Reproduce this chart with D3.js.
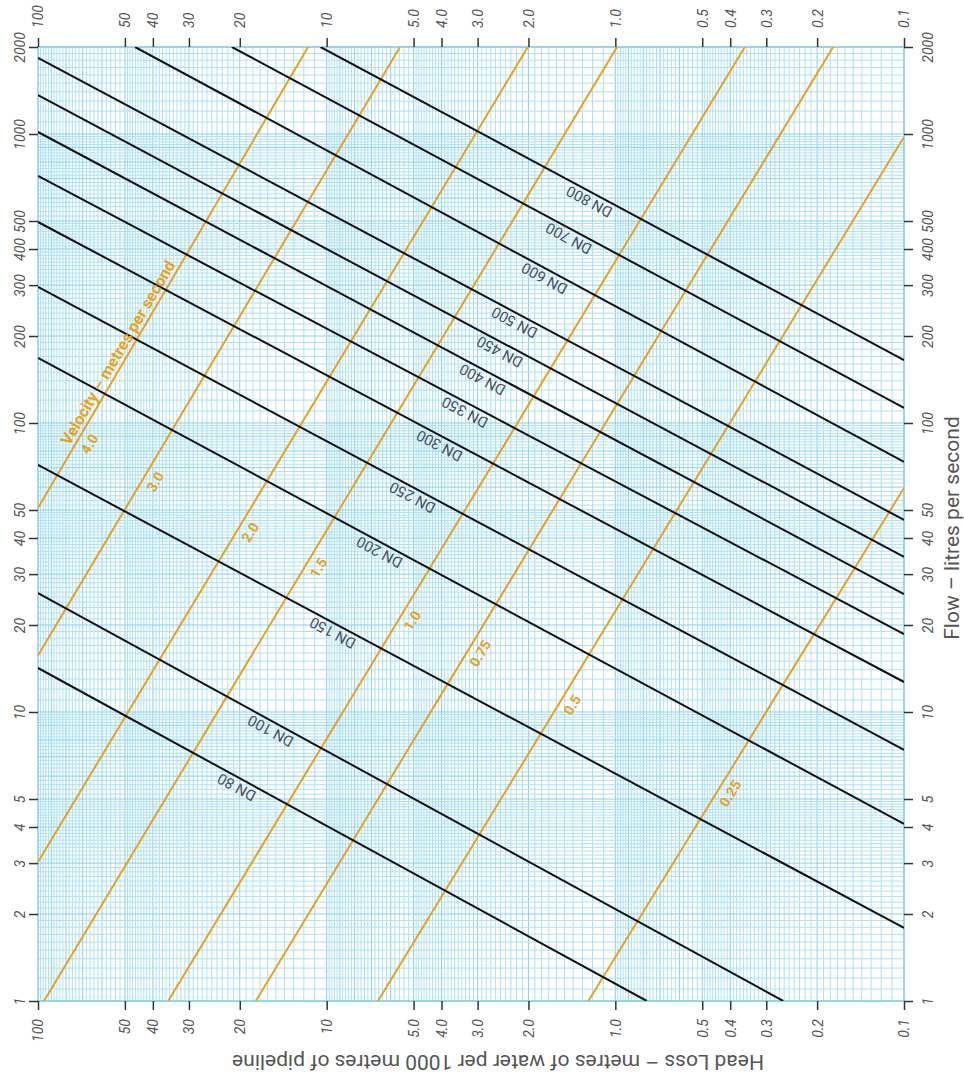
<!DOCTYPE html>
<html><head><meta charset="utf-8">
<script src="https://cdn.jsdelivr.net/npm/d3@7"></script>
<style>body{margin:0;background:#fff}svg{display:block}</style>
</head><body>
<svg id="chart" width="964" height="1073"></svg>
<script>
// ---- data ----
const headLossTicks = [100, 50, 40, 30, 20, 10, 5, 4, 3, 2, 1, 0.5, 0.4, 0.3, 0.2, 0.1];
const headLossTickLabels = ["100","50","40","30","20","10","5.0","4.0","3.0","2.0","1.0","0.5","0.4","0.3","0.2","0.1"];
const flowTicks = [1, 2, 3, 4, 5, 10, 20, 30, 40, 50, 100, 200, 300, 400, 500, 1000, 2000];
const flowTickLabels = ["1","2","3","4","5","10","20","30","40","50","100","200","300","400","500","1000","2000"];

// grid subdivision of one decade: [from, to, step] in units of the decade base
const gridSubdivision = [[1, 2, 0.1], [2, 5, 0.1], [5, 10, 0.2]];

// pipe lines: [headLoss, flow] at both ends
const pipeNames = ["DN 80","DN 100","DN 150","DN 200","DN 250","DN 300","DN 350","DN 400","DN 450","DN 500","DN 600","DN 700","DN 800"];
const pipeStart = [[100,14.2],[100,25.8],[100,71.6],[100,168],[100,296],[100,496],[100,716],[100,1016],[100,1364],[100,1833],[46.1,2000],[21.3,2000],[10.5,2000]];
const pipeEnd   = [[0.778,1],[0.262,1],[0.1,1.79],[0.1,4.1],[0.1,7.4],[0.1,12.7],[0.1,18.6],[0.1,25.6],[0.1,34.4],[0.1,46.2],[0.1,73.3],[0.1,112.7],[0.1,165]];
const pipeLabelAt = [19.8,15.1,9.21,6.34,4.87,3.93,3.21,2.79,2.43,2.16,1.70,1.40,1.19]; // head loss at label

// velocity lines
const velocityNames = ["4.0","3.0","2.0","1.5","1.0","0.75","0.5","0.25"];
const velocityStart = [[100,50.8],[100,15.7],[100,3.03],[95.3,1],[35.4,1],[17.6,1],[6.64,1],[1.24,1]];
const velocityEnd   = [[11.6,2000],[5.57,2000],[2.01,2000],[0.987,2000],[0.356,2000],[0.176,2000],[0.1,977],[0.1,59.6]];
const velocityLabelAt = [72.1,42.6,20.0,11.6,5.49,3.19,1.53,0.434];
const velocityTitle = "Velocity – metres per second";
const velocityTitleAt = 49.5;

const xTitle = "Head Loss – metres of water per 1000 metres of pipeline";
const yTitle = "Flow – litres per second";

// ---- layout ----
const L = 38, R = 904, T = 47, B = 1001;
const svg = d3.select("#chart");
const x = d3.scaleLog().domain([100, 0.1]).range([L, R]);
const y = d3.scaleLog().domain([1, 2000]).range([B, T]);

const gridMinor = "#ade1f7", gridMajor = "#86d0f0";
const orange = "#e9a21a", dnColor = "#46505e", tickText = "#555";
const font = "Roboto, 'Noto Sans', sans-serif";

// grid
function decadeValues(lo, hi) {
  const vals = [];
  for (let b = lo; b < hi * 0.9999; b *= 10) {
    gridSubdivision.forEach(([a, e, s]) => {
      const n = Math.round((e - a) / s);
      for (let k = 0; k < n; k++) {
        const m = a + k * s;
        const v = +(m * b).toPrecision(6);
        if (v >= lo && v <= hi) vals.push({v, major: Math.abs(m - Math.round(m)) < 1e-6});
      }
    });
  }
  return vals;
}
const grid = svg.append("g");
grid.selectAll("line.xg").data(decadeValues(0.1, 100)).join("line")
  .attr("x1", d => x(d.v)).attr("x2", d => x(d.v)).attr("y1", T).attr("y2", B)
  .attr("stroke", d => d.major ? gridMajor : gridMinor).attr("stroke-width", 1);
grid.selectAll("line.yg").data(decadeValues(1, 2000)).join("line")
  .attr("y1", d => y(d.v)).attr("y2", d => y(d.v)).attr("x1", L).attr("x2", R)
  .attr("stroke", d => d.major ? gridMajor : gridMinor).attr("stroke-width", 1);
svg.append("rect").attr("x", L).attr("y", T).attr("width", R - L).attr("height", B - T)
  .attr("fill", "none").attr("stroke", gridMajor).attr("stroke-width", 1.5);

svg.append("clipPath").attr("id", "plot").append("rect")
  .attr("x", L).attr("y", T).attr("width", R - L).attr("height", B - T);
const plot = svg.append("g").attr("clip-path", "url(#plot)");

// velocity lines
plot.selectAll("line.vel").data(velocityNames).join("line")
  .attr("x1", (d,i) => x(velocityStart[i][0])).attr("y1", (d,i) => y(velocityStart[i][1]))
  .attr("x2", (d,i) => x(velocityEnd[i][0])).attr("y2", (d,i) => y(velocityEnd[i][1]))
  .attr("stroke", orange).attr("stroke-width", 2);

// pipe lines
plot.selectAll("line.dn").data(pipeNames).join("line")
  .attr("x1", (d,i) => x(pipeStart[i][0])).attr("y1", (d,i) => y(pipeStart[i][1]))
  .attr("x2", (d,i) => x(pipeEnd[i][0])).attr("y2", (d,i) => y(pipeEnd[i][1]))
  .attr("stroke", "#111").attr("stroke-width", 2);

function pointOn(s, e, h) {
  const x1 = x(s[0]), y1 = y(s[1]), x2 = x(e[0]), y2 = y(e[1]);
  const px = x(h);
  const t = (px - x1) / (x2 - x1);
  return {px, py: y1 + t * (y2 - y1), ang: Math.atan2(y2 - y1, x2 - x1) * 180 / Math.PI};
}

// pipe labels (upside down, below the line)
svg.selectAll("text.dn").data(pipeNames).join("text")
  .attr("transform", (d,i) => { const p = pointOn(pipeStart[i], pipeEnd[i], pipeLabelAt[i]); return `translate(${p.px},${p.py}) rotate(${p.ang + 180})`; })
  .attr("y", -4).attr("text-anchor", "middle")
  .attr("font-family", font).attr("font-size", 15)
  .attr("fill", dnColor).text(d => d);

// velocity labels
svg.selectAll("text.vel").data(velocityNames).join("text")
  .attr("transform", (d,i) => { const p = pointOn(velocityStart[i], velocityEnd[i], velocityLabelAt[i]); return `translate(${p.px},${p.py}) rotate(${p.ang})`; })
  .attr("y", 17).attr("text-anchor", "middle")
  .attr("font-family", font).attr("font-size", 14).attr("font-weight", "bold")
  .attr("fill", orange).text(d => d);
{
  const p = pointOn(velocityStart[0], velocityEnd[0], velocityTitleAt);
  svg.append("text").attr("transform", `translate(${p.px},${p.py}) rotate(${p.ang})`)
    .attr("y", -4).attr("text-anchor", "middle")
    .attr("font-family", font).attr("font-size", 16).attr("font-weight", "bold")
    .attr("fill", orange).text(velocityTitle);
}

// axes
function styleAxis(g) {
  g.select(".domain").remove();
  g.selectAll(".tick line").attr("stroke", "#333").attr("stroke-width", 1.5);
  g.selectAll(".tick text").attr("fill", tickText).attr("font-family", font).attr("font-size", 14).attr("font-style", "italic");
}
const topAxis = svg.append("g").attr("transform", `translate(0,${T})`)
  .call(d3.axisTop(x).tickValues(headLossTicks).tickSize(9).tickFormat((d,i) => headLossTickLabels[i]));
styleAxis(topAxis);
topAxis.selectAll(".tick text").attr("x", 0).attr("y", 0).attr("dy", "0.35em")
  .attr("text-anchor", "start").attr("transform", "translate(0,-19) rotate(-90)");

const botAxis = svg.append("g").attr("transform", `translate(0,${B})`)
  .call(d3.axisBottom(x).tickValues(headLossTicks).tickSize(9).tickFormat((d,i) => headLossTickLabels[i]));
styleAxis(botAxis);
botAxis.selectAll(".tick text").attr("x", 0).attr("y", 0).attr("dy", "0.35em")
  .attr("text-anchor", "end").attr("transform", "translate(0,18) rotate(-90)");

const leftAxis = svg.append("g").attr("transform", `translate(${L},0)`)
  .call(d3.axisLeft(y).tickValues(flowTicks).tickSize(9).tickFormat((d,i) => flowTickLabels[i]));
styleAxis(leftAxis);
leftAxis.selectAll(".tick text").attr("x", 0).attr("y", 0).attr("dy", 0)
  .attr("text-anchor", "middle").attr("transform", "translate(-13,0) rotate(-90)");

const rightAxis = svg.append("g").attr("transform", `translate(${R},0)`)
  .call(d3.axisRight(y).tickValues(flowTicks).tickSize(9).tickFormat((d,i) => flowTickLabels[i]));
styleAxis(rightAxis);
rightAxis.selectAll(".tick text").attr("x", 0).attr("y", 0).attr("dy", 0)
  .attr("text-anchor", "middle").attr("transform", "translate(29,0) rotate(-90)");

// titles
svg.append("text").attr("transform", "translate(959,528) rotate(-90)").attr("text-anchor", "middle")
  .attr("font-family", font).attr("font-size", 21).attr("fill", tickText).text(yTitle);
svg.append("text").attr("transform", "translate(498,1055) rotate(180)").attr("text-anchor", "middle")
  .attr("font-family", font).attr("font-size", 21).attr("fill", tickText).text(xTitle);
</script>
</body></html>
